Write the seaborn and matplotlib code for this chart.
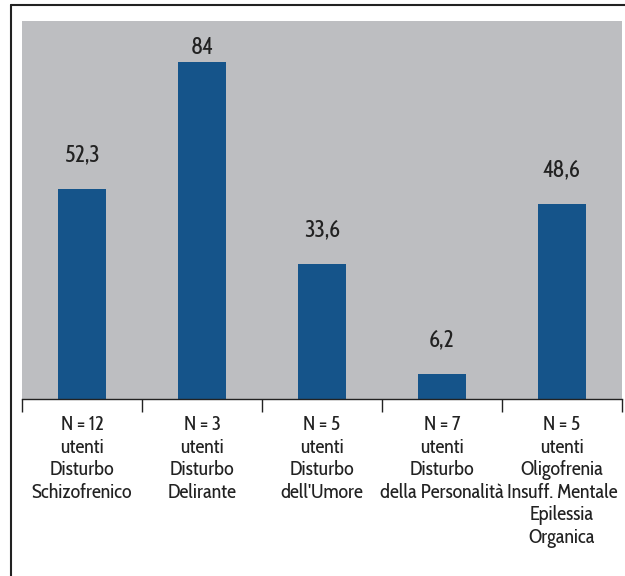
import matplotlib
matplotlib.use("Agg")
import matplotlib.pyplot as plt
import seaborn as sns
import pandas as pd
from matplotlib.lines import Line2D

categories = [
    "N = 12\nutenti\nDisturbo\nSchizofrenico",
    "N = 3\nutenti\nDisturbo\nDelirante",
    "N = 5\nutenti\nDisturbo\ndell'Umore",
    "N = 7\nutenti\nDisturbo\ndella Personalità",
    "N = 5\nutenti\nOligofrenia\nInsuff. Mentale\nEpilessia\nOrganica",
]
values = [52.3, 84, 33.6, 6.2, 48.6]
value_labels = ["52,3", "84", "33,6", "6,2", "48,6"]

sns.set_theme(style="white")
plt.rcParams['font.family'] = ['Cabin Condensed', 'DejaVu Sans']

df = pd.DataFrame({"cat": categories, "val": values})

fig = plt.figure(figsize=(6.25, 5.76), dpi=100)
ax = fig.add_axes([22/625, 177/576, 600/625, 378/576])
ax.set_facecolor("#BDBEC1")

sns.barplot(data=df, x="cat", y="val", color="#15548A", width=0.4,
            saturation=1, linewidth=0, ax=ax)

ymax = 94.2
ax.set_ylim(0, ymax)
ax.set_xlim(-0.5, len(categories) - 0.5)

for i, (v, lab) in enumerate(zip(values, value_labels)):
    y = min(v + 6.8, ymax - 8.2)
    ax.text(i, y, lab, ha="center", va="baseline", fontsize=16.5, color="#222222")

for s in ["top", "right", "left"]:
    ax.spines[s].set_visible(False)
ax.spines["bottom"].set_color("#222222")
ax.spines["bottom"].set_linewidth(1.0)
ax.set_yticks([])
ax.set_xlabel("")
ax.set_ylabel("")

ax.set_xticks(range(len(categories)))
ax.set_xticklabels(categories, fontsize=14.5, color="#222222", linespacing=1.17,
                   va="top")
ax.tick_params(axis="x", which="major", length=0, pad=11.5)
ax.set_xticks([i - 0.5 for i in range(len(categories) + 1)], minor=True)
ax.tick_params(axis="x", which="minor", length=9, width=1, color="#222222",
               direction="out", bottom=True)

fig.add_artist(Line2D([11/625, 11/625], [0, 1 - 5/576], transform=fig.transFigure,
                      color="#222222", linewidth=1.5))
fig.add_artist(Line2D([11/625, 1], [1 - 5/576, 1 - 5/576], transform=fig.transFigure,
                      color="#222222", linewidth=1.5))

fig.savefig("out.png", dpi=100, facecolor="white")
